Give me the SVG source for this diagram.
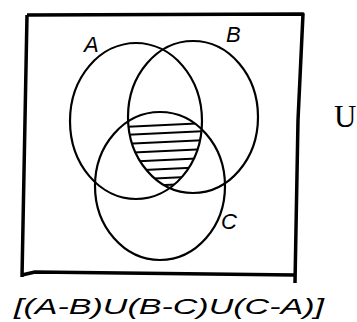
<svg xmlns="http://www.w3.org/2000/svg" width="357" height="322" viewBox="0 0 357 322">
<style>
.c{fill:none;stroke:#000;stroke-width:2.2}
.f{fill:none;stroke:#000;stroke-width:3.5;stroke-linejoin:round}
.h{stroke:#000;stroke-width:2}
.l{font-family:"Liberation Sans",sans-serif;font-style:italic;font-size:22px;fill:#000}
</style>
<defs>
<clipPath id="ca"><ellipse cx="136" cy="121" rx="66" ry="78"/></clipPath>
<clipPath id="cb"><ellipse cx="193" cy="117" rx="65" ry="76"/></clipPath>
<clipPath id="cc"><ellipse cx="160" cy="186" rx="65" ry="74"/></clipPath>
</defs>
<rect width="357" height="322" fill="#fff"/>
<g id="universe">
<path class="f" d="M27,15 L303,14 L298,120 L295,283 M22,275 L35,272 L295,275 M27,15 L22,277"/>
<text x="334" y="127" font-family="Liberation Serif,serif" font-size="31">U</text>
</g>
<g id="shade">
<g clip-path="url(#ca)"><g clip-path="url(#cb)"><g clip-path="url(#cc)">
<g class="h">
<line x1="125" y1="127" x2="205" y2="123"/>
<line x1="125" y1="135" x2="205" y2="131"/>
<line x1="125" y1="144" x2="205" y2="140"/>
<line x1="125" y1="153" x2="205" y2="149"/>
<line x1="125" y1="162" x2="205" y2="158"/>
<line x1="125" y1="171" x2="205" y2="167"/>
<line x1="125" y1="180" x2="205" y2="176"/>
<line x1="125" y1="187" x2="205" y2="183"/>
</g></g></g></g>
</g>
<g id="A"><ellipse class="c" cx="136" cy="121" rx="66" ry="78"/><text class="l" x="84" y="52">A</text></g>
<g id="B"><ellipse class="c" cx="193" cy="117" rx="65" ry="76" stroke-width="2.8"/><text class="l" x="226" y="42">B</text></g>
<g id="C"><ellipse class="c" cx="160" cy="186" rx="65" ry="74"/><text class="l" x="221" y="229">C</text></g>
<g id="caption">
<text class="l" x="14" y="314" font-size="26" textLength="310" lengthAdjust="spacingAndGlyphs">[(A-B)U(B-C)U(C-A)]</text>
</g>
</svg>
